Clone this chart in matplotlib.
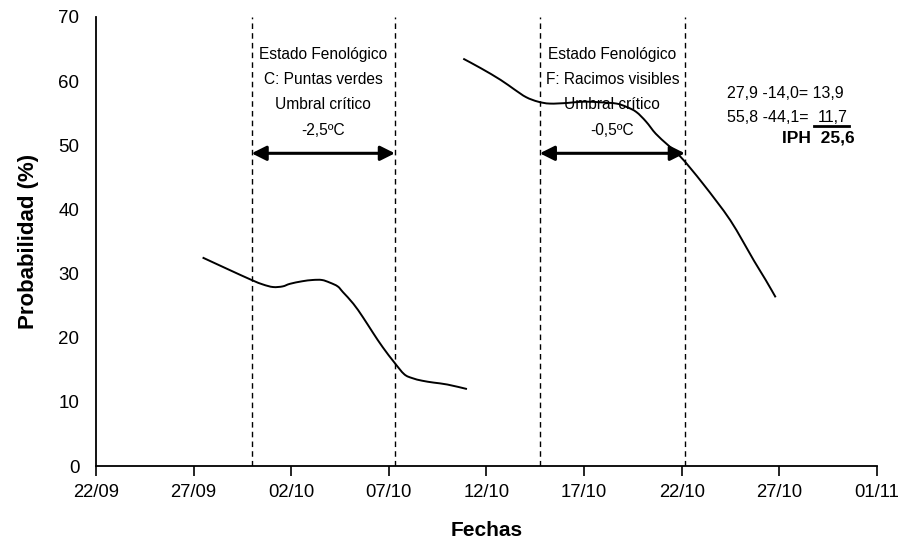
import matplotlib
matplotlib.use('Agg')
import matplotlib.pyplot as plt
from matplotlib.lines import Line2D
from matplotlib.path import Path
from matplotlib.patches import PathPatch

plt.rcParams['font.family'] = ['Liberation Sans', 'DejaVu Sans']

# x = days after 22/09
tick_days = [0, 5, 10, 15, 20, 25, 30, 35, 40]
tick_labels = ['22/09', '27/09', '02/10', '07/10', '12/10', '17/10', '22/10', '27/10', '01/11']

# stage C curve
c_days = [5.46, 6.74, 7.97, 8.55, 9.07, 9.56, 9.93, 10.56, 11.1, 11.57, 11.97, 12.38, 12.65,
          13.18, 13.67, 14.18, 14.69, 15.29, 15.79, 16.2, 16.7, 17.3, 18.0, 19.0]
c_prob = [32.5, 30.7, 29.0, 28.3, 27.9, 28.0, 28.4, 28.8, 29.0, 29.0, 28.6, 28.0, 27.1,
          25.3, 23.2, 20.8, 18.5, 16.1, 14.3, 13.7, 13.3, 13.0, 12.7, 12.0]

# stage F curve
f_days = [18.81, 19.72, 20.72, 21.43, 22.03, 22.64, 23.24, 24.14, 24.95, 25.85, 26.66, 27.16,
          27.67, 28.17, 28.67, 29.27, 29.88, 30.48, 31.09, 31.8, 32.49, 33.1, 33.7, 34.3, 34.81]
f_prob = [63.5, 62.0, 60.2, 58.7, 57.5, 56.8, 56.5, 56.6, 56.8, 56.7, 56.5, 56.0,
          55.2, 53.7, 51.8, 50.1, 48.4, 46.3, 44.0, 41.2, 38.3, 35.2, 32.0, 29.0, 26.3]

# phenological window limits (days) and arrow height
window_c = [7.97, 15.31]
window_f = [22.73, 30.16]
arrow_y = 48.75

labels_c = ['Estado Fenológico', 'C: Puntas verdes', 'Umbral crítico', '-2,5ºC']
labels_f = ['Estado Fenológico', 'F: Racimos visibles', 'Umbral crítico', '-0,5ºC']
label_rows = [64.1, 60.2, 56.3, 52.3]


def smooth_path(xs, ys):
    # catmull-rom style bezier through the points (like excel smoothed lines)
    pts = list(zip(xs, ys))
    verts = [pts[0]]
    codes = [Path.MOVETO]
    n = len(pts)
    for i in range(n - 1):
        p0 = pts[i - 1] if i > 0 else pts[i]
        p1 = pts[i]
        p2 = pts[i + 1]
        p3 = pts[i + 2] if i + 2 < n else pts[i + 1]
        c1 = (p1[0] + (p2[0] - p0[0]) / 6, p1[1] + (p2[1] - p0[1]) / 6)
        c2 = (p2[0] - (p3[0] - p1[0]) / 6, p2[1] - (p3[1] - p1[1]) / 6)
        verts += [c1, c2, p2]
        codes += [Path.CURVE4] * 3
    return Path(verts, codes)


fig = plt.figure(figsize=(8.98, 5.43), dpi=100)
ax = fig.add_axes([0.1069, 0.1418, 0.8697, 0.8269])

for xs, ys in ((c_days, c_prob), (f_days, f_prob)):
    ax.add_patch(PathPatch(smooth_path(xs, ys), fill=False, edgecolor='black', lw=1.4))

for d in window_c + window_f:
    ax.axvline(d, color='black', lw=1.0, ls=(0, (4, 3)))

for w in (window_c, window_f):
    ax.annotate('', xy=(w[1], arrow_y), xytext=(w[0], arrow_y),
                arrowprops=dict(arrowstyle='<|-|>', lw=2.2, color='black',
                                mutation_scale=22, shrinkA=0, shrinkB=0))

for w, lines in ((window_c, labels_c), (window_f, labels_f)):
    for txt, yv in zip(lines, label_rows):
        ax.text(sum(w) / 2, yv, txt, ha='center', va='center', fontsize=11.2)

ax.text(32.3, 58.1, '27,9 -14,0= 13,9', ha='left', va='center', fontsize=11.5)
ax.text(32.3, 54.4, '55,8 -44,1=', ha='left', va='center', fontsize=11.5)
t = ax.text(36.97, 54.4, '11,7', ha='left', va='center', fontsize=11.5)
ax.text(35.13, 51.1, 'IPH  25,6', ha='left', va='center', fontsize=12.5, fontweight='bold')

ax.set_xlim(0, 40)
ax.set_ylim(0, 70)
ax.set_xticks(tick_days)
ax.set_xticklabels(tick_labels)
ax.set_yticks(range(0, 71, 10))
ax.tick_params(axis='x', direction='out', length=7, width=1.2, labelsize=13.3, pad=6)
ax.tick_params(axis='y', length=0, labelsize=13.5, pad=12)
for s in ['top', 'right']:
    ax.spines[s].set_visible(False)
for s in ['left', 'bottom']:
    ax.spines[s].set_linewidth(1.3)

ax.set_xlabel('Fechas', fontsize=15, fontweight='bold', labelpad=14)
ax.set_ylabel('Probabilidad (%)', fontsize=16, fontweight='bold', labelpad=14)

# underline the 11,7
fig.canvas.draw()
bb = t.get_window_extent().transformed(fig.transFigure.inverted())
fig.add_artist(Line2D([bb.x0 - 0.004, bb.x1 + 0.002], [bb.y0 - 0.002, bb.y0 - 0.002],
                      transform=fig.transFigure, color='black', lw=2))

fig.savefig('out.png', dpi=100)
